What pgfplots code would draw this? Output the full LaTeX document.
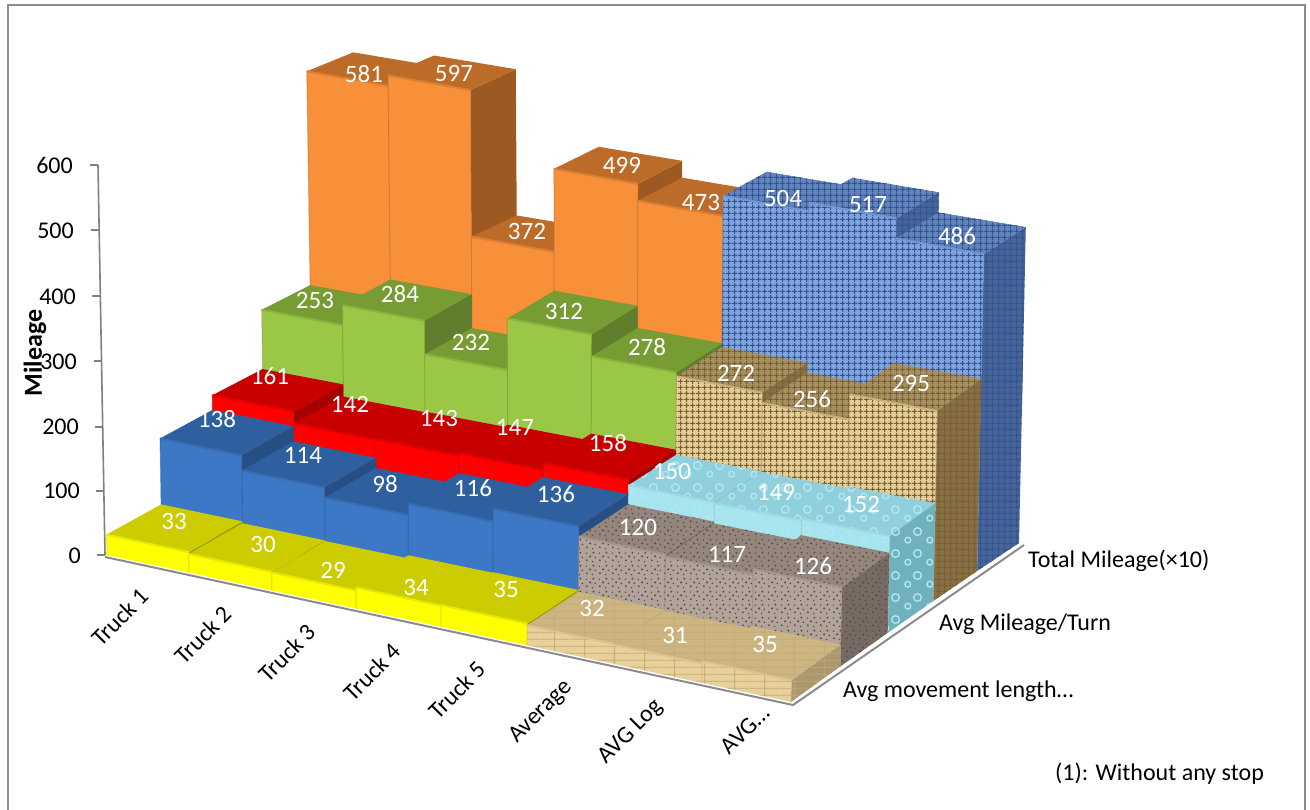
\documentclass[border=0pt]{standalone}
\usepackage{pgfplots}
\usepackage{pgfplotstable}
\usepackage{fontspec}
\setmainfont{Carlito}
\usetikzlibrary{patterns}
\pgfplotsset{compat=1.18}

% colour sets: front (F), top (T), side (S), texture ink (I)
\definecolor{orangeF}{RGB}{247,144,57}\definecolor{orangeT}{RGB}{188,107,41}\definecolor{orangeS}{RGB}{156,90,34}
\definecolor{greenF}{RGB}{155,199,70}\definecolor{greenT}{RGB}{118,156,51}\definecolor{greenS}{RGB}{96,127,44}
\definecolor{redF}{RGB}{255,0,0}\definecolor{redT}{RGB}{200,0,0}\definecolor{redS}{RGB}{168,0,0}
\definecolor{blueF}{RGB}{60,120,198}\definecolor{blueT}{RGB}{46,95,159}\definecolor{blueS}{RGB}{38,79,133}
\definecolor{yellowF}{RGB}{255,255,0}\definecolor{yellowT}{RGB}{204,204,0}\definecolor{yellowS}{RGB}{160,160,0}
\definecolor{woodF}{RGB}{232,208,155}\definecolor{woodT}{RGB}{205,181,130}\definecolor{woodS}{RGB}{172,152,108}
\definecolor{graniteF}{RGB}{178,163,153}\definecolor{graniteT}{RGB}{148,134,125}\definecolor{graniteS}{RGB}{118,106,98}
\definecolor{waterF}{RGB}{166,228,238}\definecolor{waterT}{RGB}{143,208,220}\definecolor{waterS}{RGB}{111,177,189}
\definecolor{wovenF}{RGB}{228,204,150}\definecolor{wovenT}{RGB}{166,144,96}\definecolor{wovenS}{RGB}{135,112,68}
\definecolor{denimF}{RGB}{128,164,222}\definecolor{denimT}{RGB}{98,132,188}\definecolor{denimS}{RGB}{70,100,152}
\definecolor{woodI}{RGB}{195,170,120}\definecolor{graniteI}{RGB}{85,75,68}\definecolor{waterI}{RGB}{178,230,240}
\definecolor{wovenI}{RGB}{120,95,50}\definecolor{denimI}{RGB}{50,82,145}
\definecolor{orangeI}{RGB}{0,0,0}\definecolor{greenI}{RGB}{0,0,0}\definecolor{redI}{RGB}{0,0,0}\definecolor{blueI}{RGB}{0,0,0}\definecolor{yellowI}{RGB}{0,0,0}

% textures
\pgfdeclarepatternformonly{weave}{\pgfqpoint{0pt}{0pt}}{\pgfqpoint{6pt}{6pt}}{\pgfqpoint{6pt}{6pt}}{%
 \pgfsetlinewidth{1.2pt}%
 \pgfpathmoveto{\pgfqpoint{0pt}{3pt}}\pgfpathlineto{\pgfqpoint{6pt}{3pt}}%
 \pgfpathmoveto{\pgfqpoint{3pt}{0pt}}\pgfpathlineto{\pgfqpoint{3pt}{6pt}}%
 \pgfusepath{stroke}}
\pgfdeclarepatternformonly{speckle}{\pgfqpoint{0pt}{0pt}}{\pgfqpoint{13pt}{13pt}}{\pgfqpoint{13pt}{13pt}}{%
 \pgfpathcircle{\pgfqpoint{2pt}{3pt}}{1.1pt}%
 \pgfpathcircle{\pgfqpoint{8pt}{1.6pt}}{0.8pt}%
 \pgfpathcircle{\pgfqpoint{5.5pt}{7pt}}{1.2pt}%
 \pgfpathcircle{\pgfqpoint{11pt}{6pt}}{0.9pt}%
 \pgfpathcircle{\pgfqpoint{1.5pt}{10.5pt}}{0.8pt}%
 \pgfpathcircle{\pgfqpoint{9pt}{11pt}}{1.1pt}%
 \pgfusepath{fill}}
\pgfdeclarepatternformonly{planks}{\pgfqpoint{0pt}{0pt}}{\pgfqpoint{30pt}{7pt}}{\pgfqpoint{30pt}{7pt}}{%
 \pgfsetlinewidth{0.8pt}%
 \pgfpathmoveto{\pgfqpoint{0pt}{3pt}}\pgfpathlineto{\pgfqpoint{30pt}{3pt}}%
 \pgfpathmoveto{\pgfqpoint{15pt}{0pt}}\pgfpathlineto{\pgfqpoint{15pt}{7pt}}%
 \pgfusepath{stroke}}
\pgfdeclarepatternformonly{droplets}{\pgfqpoint{0pt}{0pt}}{\pgfqpoint{22pt}{22pt}}{\pgfqpoint{22pt}{22pt}}{%
 \pgfsetlinewidth{1.4pt}%
 \pgfpathcircle{\pgfqpoint{6pt}{6pt}}{3pt}%
 \pgfpathcircle{\pgfqpoint{16pt}{15pt}}{4pt}%
 \pgfusepath{stroke}}

% texture of each series
\pgfkeys{/tex/.cd,
 orange/.initial=none,green/.initial=none,red/.initial=none,blue/.initial=none,yellow/.initial=none,
 wood/.initial=planks,granite/.initial=speckle,water/.initial=droplets,
 woven/.initial=weave,denim/.initial=weave}

% perspective of the floor: category boundary, row boundary, value -> picture position
\newcommand\Proj[5]{%
 \pgfmathsetmacro\pU{(#1)/8}\pgfmathsetmacro\pV{(#2)/5}%
 \pgfmathsetmacro\pUU{\pU-0.047*\pU*(1-\pU)}%
 \pgfmathsetmacro\pVV{\pV+0.1*\pV*(1-\pV)}%
 \pgfmathsetmacro\pK{\pV>0.9 ? 0.65 : 0.62+0.04*\pV}%
 \pgfmathsetmacro#4{107+684*\pUU+252*\pVV-24*\pUU*\pVV+(-0.01+0.024*\pU)*(#3)}%
 \pgfmathsetmacro#5{555+147*\pUU-125*\pVV-34*\pUU*\pVV-18*\pV*(1-\pV)*(1-0.6*\pU)-\pK*(#3)}%
}

% one face: colour, corner list, texture, texture ink
\newcommand\Face[4]{%
 \addplot[fill=#1,draw=none] coordinates {#2} --cycle;
 \def\texname{#3}\def\nonename{none}%
 \ifx\texname\nonename\else
  \addplot[pattern=#3,pattern color=#4,draw=none] coordinates {#2} --cycle;
 \fi
}
% one bar: category, row, value, colour set
\newcommand\Bar[4]{%
 \pgfmathsetmacro\cA{#1}\pgfmathsetmacro\cB{#1+1}%
 \pgfmathsetmacro\dA{#2}\pgfmathsetmacro\dB{#2+1}%
 \Proj{\cA}{\dA}{0}{\xa}{\ya}\Proj{\cB}{\dA}{0}{\xb}{\yb}\Proj{\cB}{\dB}{0}{\xc}{\yc}%
 \Proj{\cA}{\dA}{#3}{\xd}{\yd}\Proj{\cB}{\dA}{#3}{\xe}{\ye}\Proj{\cB}{\dB}{#3}{\xf}{\yf}\Proj{\cA}{\dB}{#3}{\xg}{\yg}%
 \edef\texture{\pgfkeysvalueof{/tex/#4}}%
 \edef\sidepts{(\xb,\yb) (\xc,\yc) (\xf,\yf) (\xe,\ye)}%
 \edef\toppts{(\xd,\yd) (\xe,\ye) (\xf,\yf) (\xg,\yg)}%
 \edef\frontpts{(\xa,\ya) (\xb,\yb) (\xe,\ye) (\xd,\yd)}%
 \edef\edgepts{(\xa,\ya) (\xd,\yd) (\xe,\ye) (\xb,\yb)}%
 \edef\edgetop{(\xd,\yd) (\xe,\ye)}%
 \edef\job{%
  \noexpand\Face{#4S}{\sidepts}{\texture}{#4I}%
  \noexpand\Face{#4T}{\toppts}{\texture}{#4I}%
  \noexpand\Face{#4F}{\frontpts}{\texture}{#4I}%
  \noexpand\addplot[draw=#4T,opacity=0.45,line width=1pt] coordinates {\edgepts};%
  \noexpand\addplot[draw=#4F!55!#4T,line width=2pt] coordinates {\edgetop};%
 }\job
}

% category, row (0 = front), value, colour set; back row first, then left to right
\pgfplotstableread{
cat row value set
0 4 581 orange
1 4 597 orange
2 4 372 orange
3 4 499 orange
4 4 473 orange
5 4 504 denim
6 4 517 denim
7 4 486 denim
0 3 253 green
1 3 284 green
2 3 232 green
3 3 312 green
4 3 278 green
5 3 272 woven
6 3 256 woven
7 3 295 woven
0 2 161 red
1 2 142 red
2 2 143 red
3 2 147 red
4 2 158 red
5 2 150 water
6 2 149 water
7 2 152 water
0 1 138 blue
1 1 114 blue
2 1 98 blue
3 1 116 blue
4 1 136 blue
5 1 120 granite
6 1 117 granite
7 1 126 granite
0 0 33 yellow
1 0 30 yellow
2 0 29 yellow
3 0 34 yellow
4 0 35 yellow
5 0 32 wood
6 0 31 wood
7 0 35 wood
}\bardata

% picture positions and text of the value labels
\pgfplotstableread{
px py label
364 74 581
454 73 597
527 231 372
622 165 499
701 202 473
783 198 504
868 205 517
957 236 486
315 300 253
400 294 284
471 342 232
564 311 312
647 347 278
736 373 272
812 399 256
911 383 295
270 376 161
350 404 142
439 418 143
515 427 147
608 443 158
672 471 150
776 492 149
861 504 152
217 419 138
303 455 114
385 484 98
473 488 116
556 494 136
638 527 120
727 554 117
813 566 126
174 521 33
263 544 30
333 570 29
416 587 34
506 589 35
592 608 32
675 635 31
765 644 35
}\labeldata

\begin{document}
\begin{tikzpicture}[font=\fontsize{24}{28}\selectfont,every node/.append style={inner sep=0pt}]
\begin{axis}[
  width=1310pt,height=810pt,scale only axis,
  xmin=0,xmax=1310,ymin=0,ymax=810,y dir=reverse,
  hide axis,clip=true,
]
% page and frame
\addplot[fill=white,draw=none] coordinates {(0,0) (1310,0) (1310,810) (0,810)} --cycle;
\addplot[draw=black!45,line width=2pt] coordinates {(7.5,810) (7.5,5.5) (1305,5.5) (1305,810)};

% floor edges
\addplot[draw=black!45,line width=2pt] coordinates {(105,557) (793,705) (1024,545)};

% value axis
\addplot[draw=black!50,line width=1.6pt] table {
x y
98 165
105 555
};
\addplot[draw=black!50,line width=1.2pt] coordinates {(90,165) (98,165)};
\addplot[draw=black!50,line width=1.2pt] coordinates {(91,230) (99,230)};
\addplot[draw=black!50,line width=1.2pt] coordinates {(92,296) (100,296)};
\addplot[draw=black!50,line width=1.2pt] coordinates {(94,361) (102,361)};
\addplot[draw=black!50,line width=1.2pt] coordinates {(95,427) (103,427)};
\addplot[draw=black!50,line width=1.2pt] coordinates {(96,491) (104,491)};
\addplot[draw=black!50,line width=1.2pt] coordinates {(97,555) (105,555)};

% bars
\pgfplotsinvokeforeach{0,...,39}{%
 \pgfplotstablegetelem{#1}{cat}\of\bardata\let\bc\pgfplotsretval
 \pgfplotstablegetelem{#1}{row}\of\bardata\let\br\pgfplotsretval
 \pgfplotstablegetelem{#1}{value}\of\bardata\let\bv\pgfplotsretval
 \pgfplotstablegetelem{#1}{set}\of\bardata\let\bs\pgfplotsretval
 \edef\doit{\noexpand\Bar{\bc}{\br}{\bv}{\bs}}\doit
}

% value labels
\addplot[only marks,mark=none,
  point meta=explicit symbolic,
  nodes near coords,
  nodes near coords align={anchor=center},
  every node near coord/.append style={text=white,font=\fontsize{25}{29}\selectfont,inner sep=0pt},
] table[x=px,y=py,meta=label] {\labeldata};

% axis texts
\node[anchor=east] at (axis cs:73,165) {600};
\node[anchor=east] at (axis cs:74,231) {500};
\node[anchor=east] at (axis cs:76,297) {400};
\node[anchor=east] at (axis cs:77,362) {300};
\node[anchor=east] at (axis cs:79,427) {200};
\node[anchor=east] at (axis cs:80,491) {100};
\node[anchor=east] at (axis cs:81,556) {0};
\node[rotate=90,font=\fontsize{26}{30}\selectfont\bfseries] at (axis cs:35,353) {Mileage};
\node[rotate=45] at (axis cs:120,617) {Truck 1};
\node[rotate=45] at (axis cs:203,635) {Truck 2};
\node[rotate=45] at (axis cs:287,653) {Truck 3};
\node[rotate=45] at (axis cs:372,672) {Truck 4};
\node[rotate=45] at (axis cs:457,690) {Truck 5};
\node[rotate=45] at (axis cs:541,712) {Average};
\node[rotate=45] at (axis cs:631,732) {AVG Log};
\node[rotate=45] at (axis cs:745,730) {AVG…};
\node[anchor=west] at (axis cs:1028,561) {Total Mileage(×10)};
\node[anchor=west] at (axis cs:939,624) {Avg Mileage/Turn};
\node[anchor=west] at (axis cs:843,691) {Avg movement length…};
\node[anchor=west] at (axis cs:1055,774) {(1): Without any stop};
\end{axis}
\end{tikzpicture}
\end{document}
